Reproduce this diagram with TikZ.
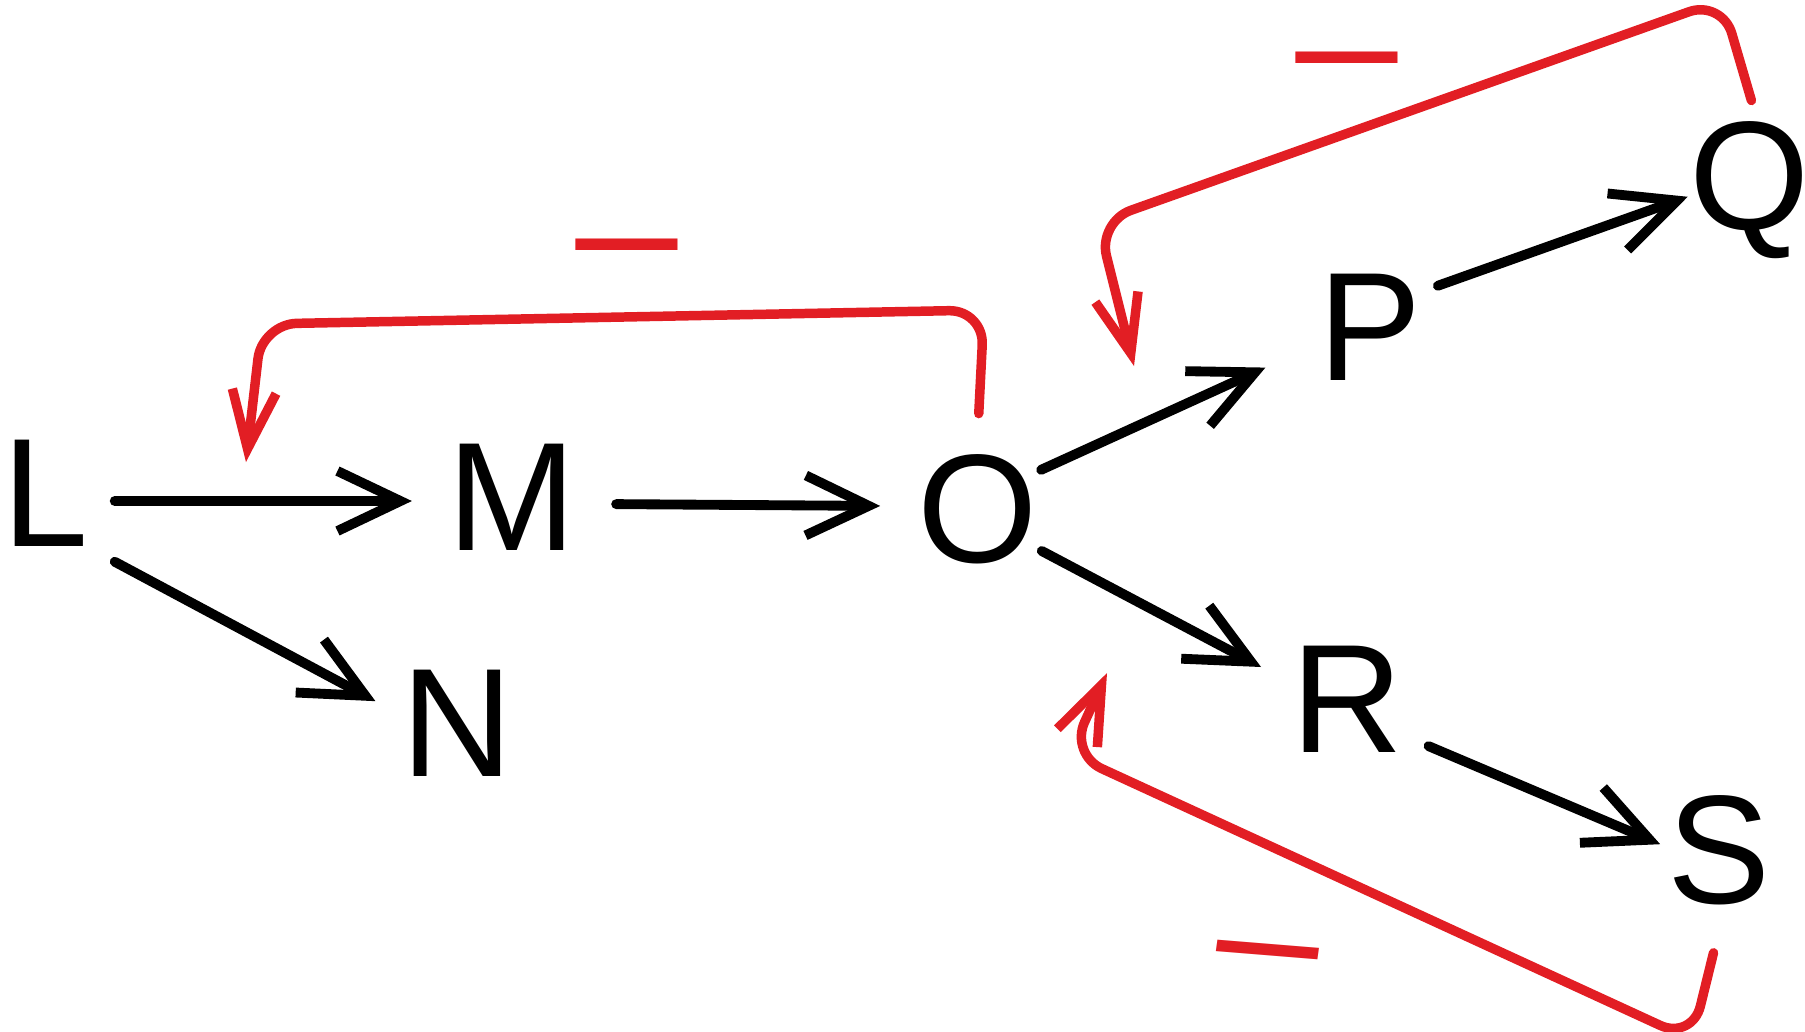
\documentclass[tikz,border=0pt]{standalone}
\usepackage{fontspec}
\setmainfont{Liberation Sans}
\usetikzlibrary{arrows.meta}
\definecolor{feedred}{RGB}{226,30,36}
\tikzset{
    var/.style={inner sep=2.5mm, font=\fontsize{44}{44}\selectfont},
    arrow/.style={-{Straight Barb[length=6.3mm, width=6mm]}, line width=2.8pt, line cap=round, draw=black},
    inhibit/.style={-{Straight Barb[length=5.8mm, width=4.4mm]}, line width=2.7pt, line cap=round, draw=feedred, rounded corners=3.5mm},
    sign/.style={text=feedred, anchor=mid, xscale=1.3, font=\fontsize{46}{46}\selectfont}
}

\begin{document}
\begin{tikzpicture}[x=0.1mm, y=-0.1mm]
    \useasboundingbox (0,0) rectangle (1805,1031);

    % Nodes
    \node (L) [var] at (46,493) {L};
    \node (M) [var] at (512,497) {M};
    \node (N) [var] at (457,723) {N};
    \node (O) [var] at (978,509) {O};
    \node (P) [var] at (1370,327) {P};
    \node (Q) [var] at (1750,190) {Q};
    \node (R) [var] at (1347,699) {R};
    \node (S) [var] at (1719,850) {S};

    % Flows
    \draw [arrow, shorten >=1mm] ([yshift=-0.8mm]L.east) -- ([yshift=-0.4mm]M.west);
    \draw [arrow] (L.-45) -- (N.165);
    \draw [arrow, shorten <=1.4mm, shorten >=1.2mm] ([yshift=-0.7mm]M.east) -- ([yshift=0.3mm]O.west);
    \draw [arrow, shorten <=-2.5mm, shorten >=3mm] (O.30) -- (P.200);
    \draw [arrow, shorten <=-1mm, shorten >=-2.5mm] (P.30) -- (Q.190);
    \draw [arrow, shorten <=-2.5mm, shorten >=0.5mm] (O.-32) -- (R.160);
    \draw [arrow, shorten >=-2mm] (R.-30) -- (S.170);

    % Negative feedback
    \coordinate (cutLM) at (246,462);
    \coordinate (cutOP) at (1134,366);
    \coordinate (cutOR) at (1107,673);

    \draw [inhibit, shorten <=1.5mm] (O.north) -- (984,310) -- (262,324) -- (cutLM);
    \node (minusLM) [sign] at (627,289) {−};

    \draw [inhibit, shorten <=-0.5mm] (Q.north) -- (1722,0) -- (1098,222) -- (cutOP);
    \node (minusOP) [sign] at (1347,102) {−};

    \draw [inhibit, shorten <=2.3mm] (S.south) -- (1692,1040) -- (1070,754) -- (cutOR);
    \node (minusOR) [sign, rotate=-6] at (1262,994) {−};
\end{tikzpicture}
\end{document}
